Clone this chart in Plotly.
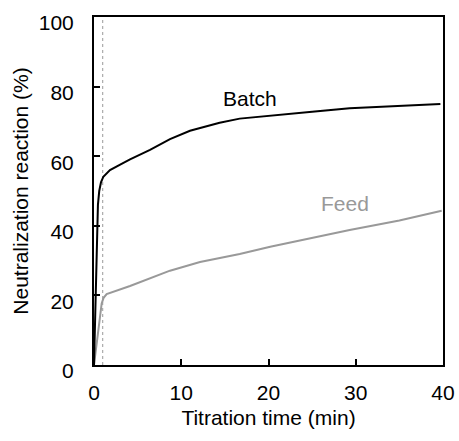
import plotly.graph_objects as go

batch_t = [0, 0.1, 0.2, 0.3, 0.45, 0.6, 0.8, 1.07, 1.5, 1.83, 3, 4.13, 6.42, 8.71, 11.0, 14.4, 16.7, 20.2, 25, 29.3, 35, 39.7]
batch_y = [0, 10, 25, 38, 46, 50, 52.5, 54.1, 55.3, 56.0, 57.6, 59.1, 61.8, 64.9, 67.3, 69.6, 70.8, 71.7, 72.8, 73.8, 74.5, 75.0]

feed_t = [0, 0.15, 0.3, 0.5, 0.7, 0.88, 1.1, 1.45, 4.13, 8.71, 12.15, 16.7, 20.2, 25, 29.3, 35, 39.85]
feed_y = [0, 3, 5.3, 11, 15, 17.7, 19.3, 20.4, 22.7, 27.1, 29.6, 31.9, 34.0, 36.5, 38.8, 41.5, 44.3]

marker_t = 1.0

labels = [("Batch", 17.9, 76.7, "black"), ("Feed", 28.8, 46.5, "#999999")]

FONT = "Liberation Sans, Arial"

fig = go.Figure()
fig.add_trace(go.Scatter(x=feed_t, y=feed_y, mode="lines", line=dict(color="#999999", width=2), showlegend=False))
fig.add_trace(go.Scatter(x=batch_t, y=batch_y, mode="lines", line=dict(color="black", width=2), showlegend=False))
fig.add_shape(type="line", x0=marker_t, x1=marker_t, y0=0, y1=100, xref="x", yref="y",
              line=dict(color="#999999", width=1, dash="dot"), layer="below")
for txt, x, y, c in labels:
    fig.add_annotation(x=x, y=y, text=txt, showarrow=False, font=dict(size=21, color=c, family=FONT))

fig.update_layout(
    width=459, height=441,
    margin=dict(l=94, r=16, t=17, b=76, autoexpand=False),
    plot_bgcolor="white", paper_bgcolor="white",
    font=dict(family=FONT, size=21, color="black"),
)
fig.update_xaxes(range=[0, 40], tickvals=[0, 10, 20, 30, 40], ticks="inside", ticklen=6, tickwidth=2, tickcolor="black",
                 showline=True, linecolor="black", linewidth=2, mirror=True, showgrid=False, zeroline=False,
                 automargin=False, ticklabelstandoff=8,
                 title=dict(text="Titration time (min)", font=dict(size=21), standoff=7), tickfont=dict(size=21))
fig.update_yaxes(range=[0, 100], tickvals=[0, 20, 40, 60, 80, 100], ticks="inside", ticklen=6, tickwidth=2, tickcolor="black",
                 showline=True, linecolor="black", linewidth=2, mirror=True, showgrid=False, zeroline=False,
                 automargin=False, ticklabelstandoff=14, ticklabelshift=6,
                 title=dict(text="Neutralization reaction (%)", font=dict(size=21), standoff=4), tickfont=dict(size=21))

fig.write_html("out.html")
